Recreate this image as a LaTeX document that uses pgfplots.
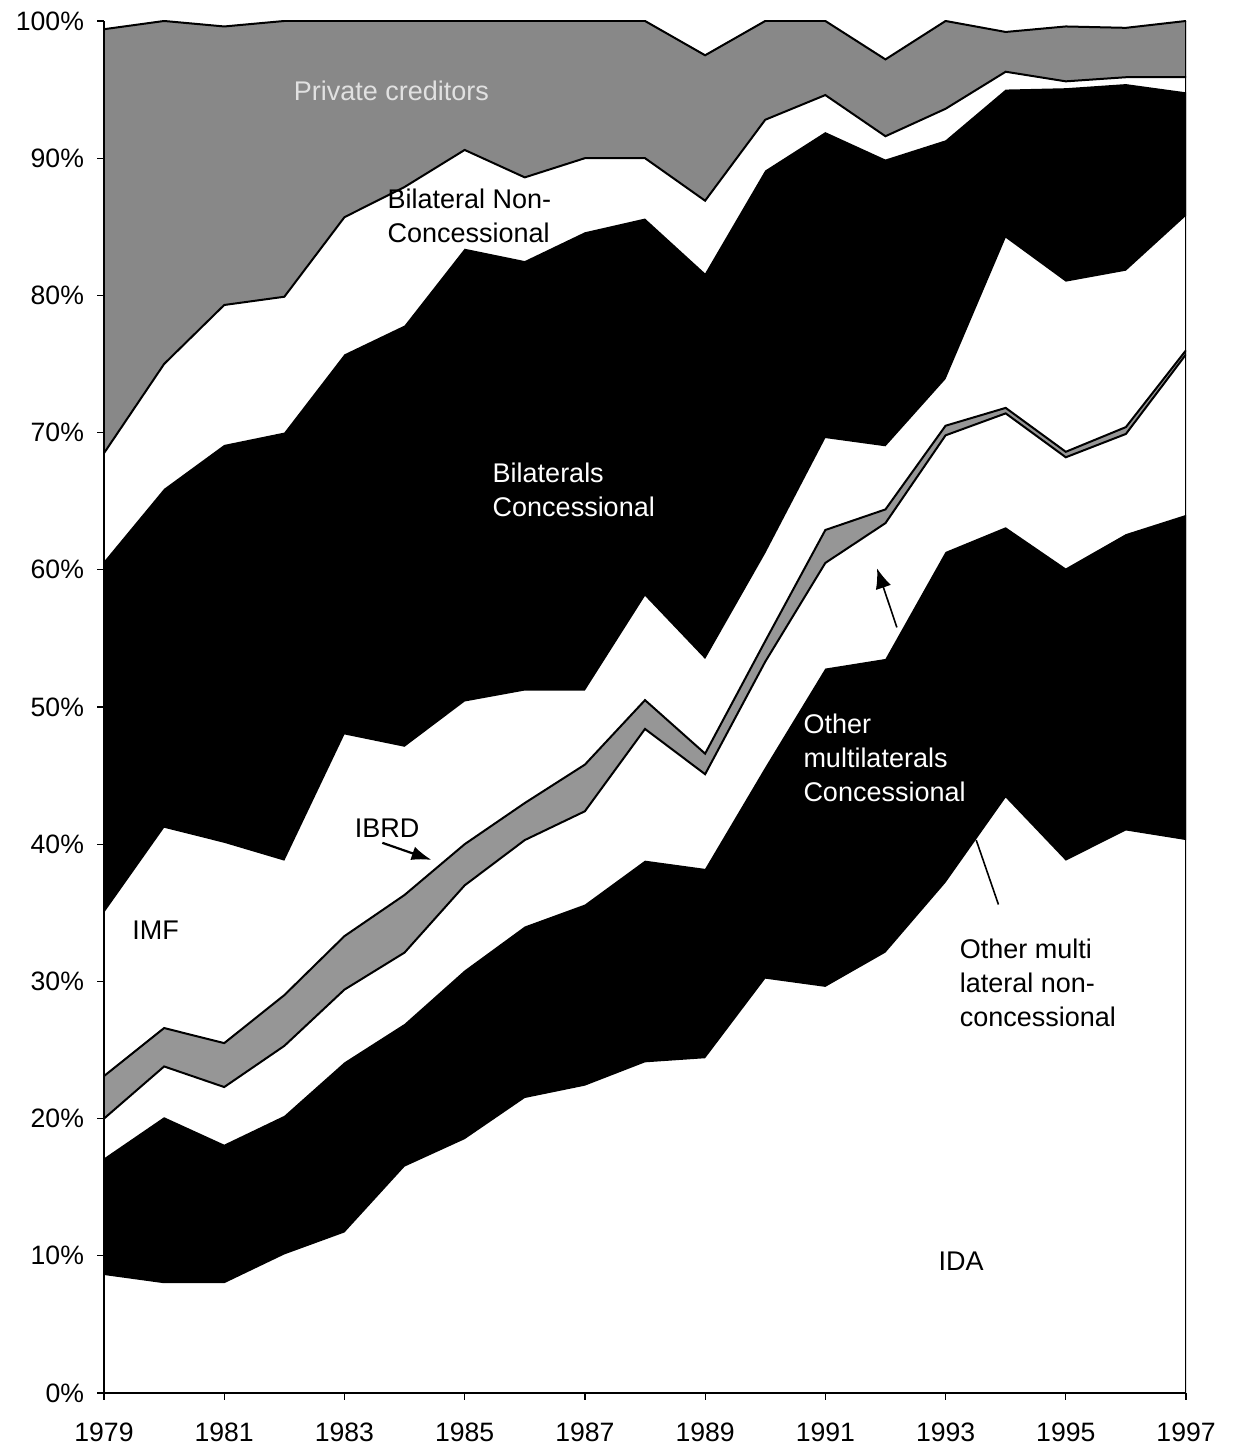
\documentclass[border=0pt]{standalone}
\usepackage{pgfplots}
\pgfplotsset{compat=1.18}
\usepgfplotslibrary{fillbetween}
\usetikzlibrary{arrows.meta}
\usepackage{pgfplotstable}
\usepackage{fontspec}
\setmainfont{Liberation Sans}

\definecolor{pcgray}{RGB}{136,136,136}
\definecolor{ibgray}{RGB}{150,150,150}
\definecolor{lighttxt}{RGB}{225,225,225}

% cumulative upper boundary of each layer (percent of total)
\pgfplotstableread{
year IDA  OMC  ONC  IBRD IMF  BC   BNC  PC
1979 8.6  17.1 20.0 23.1 35.0 60.6 68.5 99.4
1980 8.0  20.1 23.8 26.6 41.2 65.9 75.0 100
1981 8.0  18.1 22.3 25.5 40.1 69.1 79.3 99.6
1982 10.1 20.2 25.3 29.0 38.8 70.0 79.9 100
1983 11.7 24.1 29.4 33.3 48.0 75.7 85.7 100
1984 16.5 26.9 32.1 36.3 47.1 77.8 87.9 100
1985 18.5 30.8 37.0 40.0 50.4 83.4 90.6 100
1986 21.5 34.0 40.3 43.0 51.2 82.5 88.6 100
1987 22.4 35.6 42.4 45.8 51.2 84.6 90.0 100
1988 24.1 38.8 48.4 50.5 58.1 85.6 90.0 100
1989 24.4 38.2 45.1 46.6 53.5 81.6 86.9 97.5
1990 30.2 45.6 53.3 54.8 61.2 89.1 92.8 100
1991 29.6 52.8 60.5 62.9 69.6 91.9 94.6 100
1992 32.1 53.5 63.4 64.4 69.0 89.9 91.6 97.2
1993 37.2 61.3 69.8 70.5 73.9 91.3 93.6 100
1994 43.4 63.1 71.4 71.8 84.2 95.0 96.3 99.2
1995 38.8 60.1 68.2 68.6 81.0 95.1 95.6 99.6
1996 41.0 62.6 69.9 70.4 81.8 95.4 95.9 99.5
1997 40.3 64.0 75.7 76.0 85.8 94.8 95.9 100
}\data

\begin{document}
\begin{tikzpicture}
\begin{axis}[
  scale only axis,
  width=541pt, height=686pt,
  xmin=1979, xmax=1997, ymin=0, ymax=100,
  axis x line*=bottom, axis y line*=left,
  axis line style={-, line width=0.8pt},
  axis on top,
  xtick={1979,1981,...,1997},
  minor x tick num=1,
  ytick={0,10,...,100},
  yticklabel={\pgfmathprintnumber{\tick}\%},
  /pgf/number format/assume math mode=true,
  /pgf/number format/1000 sep={},
  tick align=outside,
  major tick length=3.5pt, minor tick length=3.5pt,
  tick style={black, line width=0.6pt},
  x tick label style={font=\fontsize{13.3}{15}\selectfont, yshift=-8pt},
  y tick label style={font=\fontsize{13.3}{15}\selectfont, xshift=-3pt},
]
\addplot[draw=none, name path=IDA]  table[x=year, y=IDA]  \data;
\addplot[draw=none, name path=OMC]  table[x=year, y=OMC]  \data;
\addplot[draw=none, name path=ONC]  table[x=year, y=ONC]  \data;
\addplot[draw=none, name path=IBRD] table[x=year, y=IBRD] \data;
\addplot[draw=none, name path=IMF]  table[x=year, y=IMF]  \data;
\addplot[draw=none, name path=BC]   table[x=year, y=BC]   \data;
\addplot[draw=none, name path=BNC]  table[x=year, y=BNC]  \data;
\addplot[draw=none, name path=PC]   table[x=year, y=PC]   \data;

\addplot[black] fill between[of=OMC and IDA];
\addplot[ibgray] fill between[of=IBRD and ONC];
\addplot[black] fill between[of=BC and IMF];
\addplot[pcgray] fill between[of=PC and BNC];

\addplot[black, line width=1pt] table[x=year, y=ONC]  \data;
\addplot[black, line width=1pt] table[x=year, y=IBRD] \data;
\addplot[black, line width=1pt] table[x=year, y=BNC]  \data;
\addplot[black, line width=1pt] table[x=year, y=PC]   \data;

\draw[line width=0.8pt] (rel axis cs:1,0) -- (rel axis cs:1,1);

\begin{scope}[every node/.style={font=\fontsize{13.5}{17}\selectfont, inner sep=0pt}]
\node[text=lighttxt] at (axis cs:1983.78,94.9) {Private creditors};
\node[anchor=west, align=left] at (axis cs:1983.71,85.8) {Bilateral Non-\\Concessional};
\node[anchor=west, align=left, text=white] at (axis cs:1985.46,65.8) {Bilaterals\\Concessional};
\node at (axis cs:1983.71,41.2) {IBRD};
\node at (axis cs:1979.86,33.7) {IMF};
\node[anchor=west, align=left, text=white] at (axis cs:1990.63,46.3) {Other\\multilaterals\\Concessional};
\node[anchor=west, align=left] at (axis cs:1993.23,29.9) {Other multi\\lateral non-\\concessional};
\node at (axis cs:1993.26,9.6) {IDA};
\end{scope}
\draw[-{Latex[length=10pt,width=7pt]}, line width=1.1pt] (axis cs:1983.63,40.1) -- (axis cs:1984.45,38.85);
\draw[-{Latex[length=10pt,width=8pt]}, line width=0.8pt] (axis cs:1992.19,55.8) -- (axis cs:1991.86,60.1);
\draw[line width=0.8pt] (axis cs:1993.51,40.3) -- (axis cs:1993.88,35.6);
\end{axis}
\pgfresetboundingbox
\path[use as bounding box] ([shift={(-52pt,-28pt)}]current axis.south west) rectangle ([shift={(24pt,10.5pt)}]current axis.north east);
\end{tikzpicture}
\end{document}
